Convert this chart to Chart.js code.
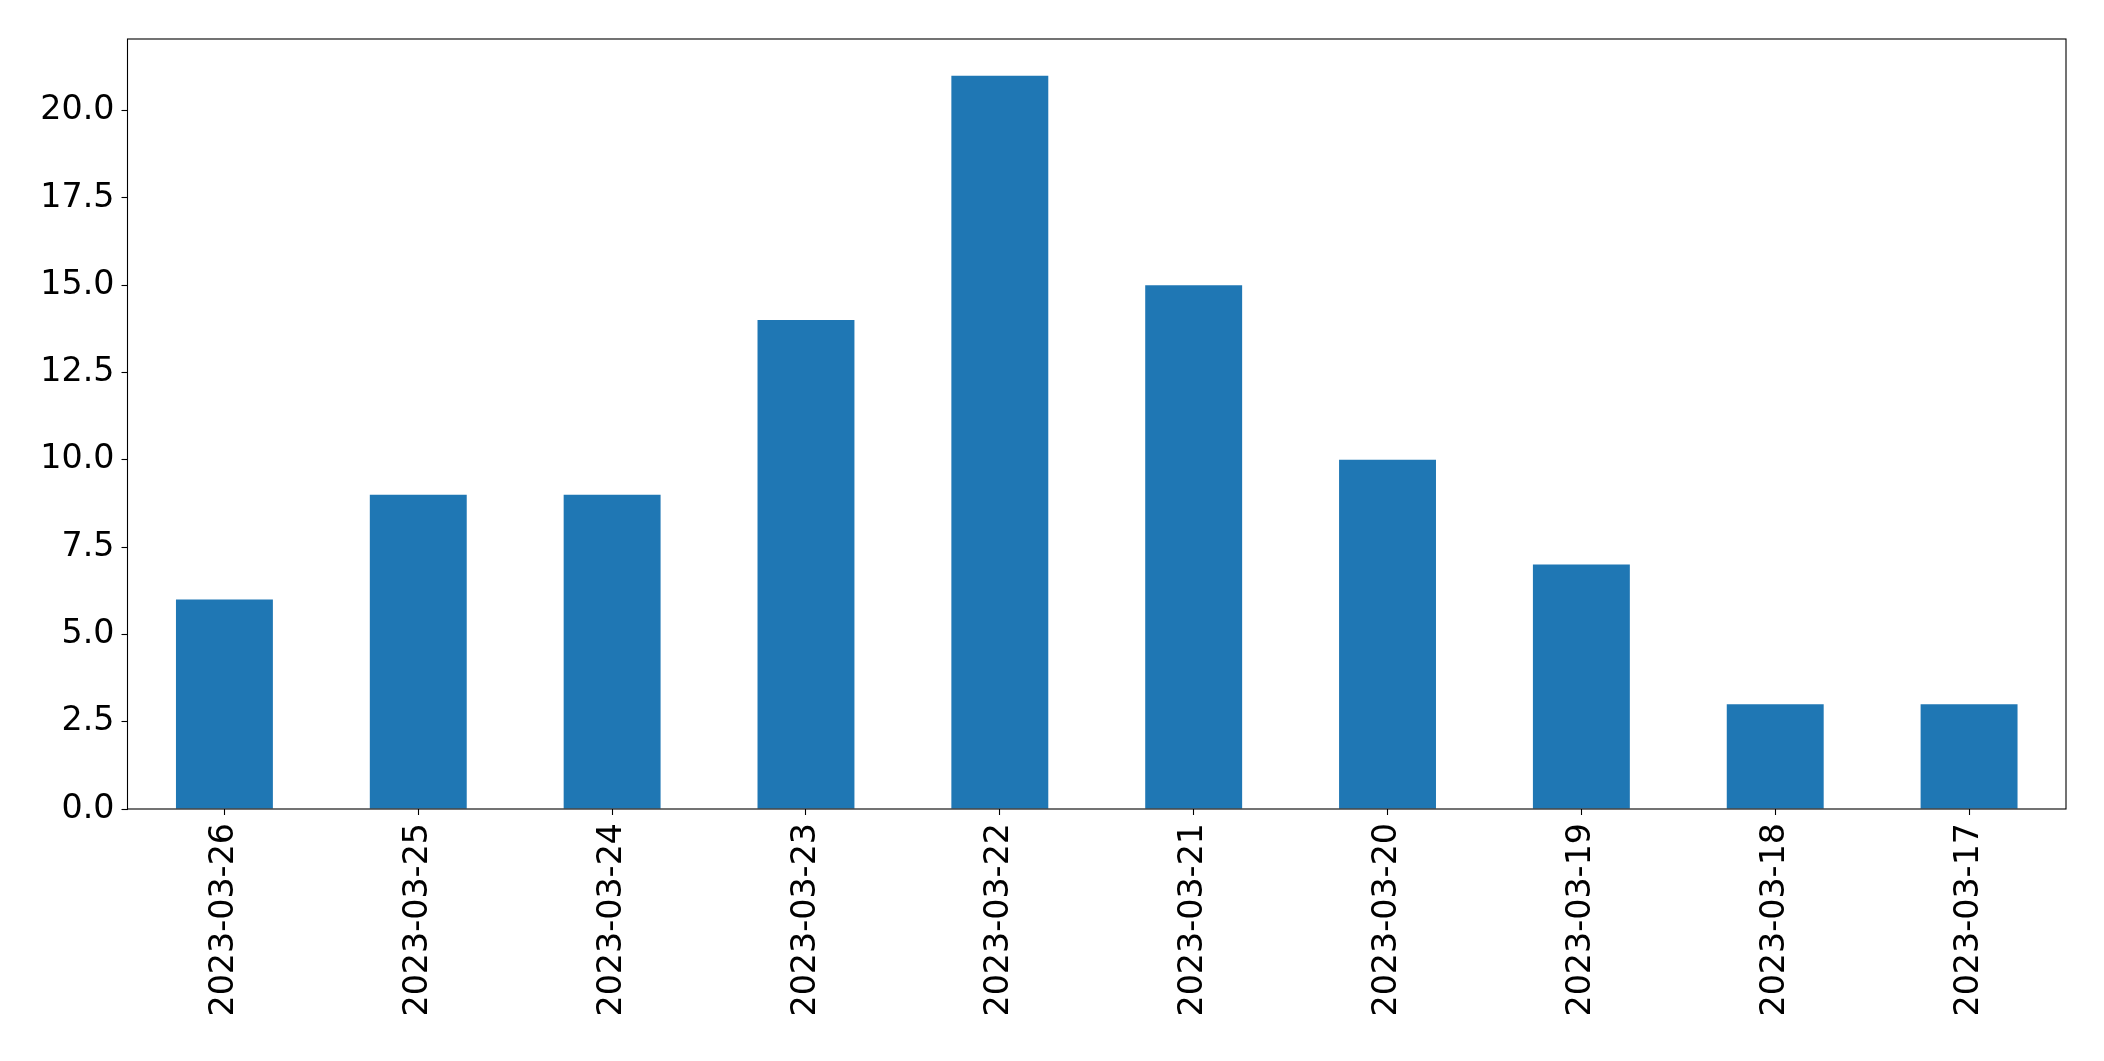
<!DOCTYPE html>
<html>
<head>
<meta charset="utf-8">
<script src="https://cdn.jsdelivr.net/npm/chart.js@4"></script>
<style>
html,body{margin:0;padding:0;background:#fff;}
#wrap{width:2104px;height:1061px;position:relative;}
</style>
</head>
<body>
<div id="wrap"><canvas id="c" width="2104" height="1061"></canvas></div>
<script>
const categories = ["2023-03-26","2023-03-25","2023-03-24","2023-03-23","2023-03-22","2023-03-21","2023-03-20","2023-03-19","2023-03-18","2023-03-17"];
const counts = [6, 9, 9, 14, 21, 15, 10, 7, 3, 3];
const yTicks = [0, 2.5, 5, 7.5, 10, 12.5, 15, 17.5, 20];

const frame = {
  id: 'frame',
  afterDraw(chart) {
    const a = chart.chartArea, ctx = chart.ctx;
    ctx.save();
    ctx.strokeStyle = '#000';
    ctx.lineWidth = 1.1;
    ctx.strokeRect(a.left, a.top, a.right - a.left, a.bottom - a.top);
    ctx.restore();
  }
};

new Chart(document.getElementById('c'), {
  type: 'bar',
  data: {
    labels: categories,
    datasets: [{ data: counts, backgroundColor: '#1f77b4', borderWidth: 0, categoryPercentage: 1, barPercentage: 0.5 }]
  },
  options: {
    responsive: false,
    animation: false,
    devicePixelRatio: 1,
    layout: { padding: { top: 39, right: 38, left: 0, bottom: 0 } },
    plugins: { legend: { display: false }, tooltip: { enabled: false } },
    scales: {
      x: {
        grid: { display: true, offset: false, drawOnChartArea: false, drawTicks: true, tickLength: 6, tickColor: '#000', tickWidth: 1.1 },
        border: { display: false },
        ticks: { color: '#000', font: { family: 'DejaVu Sans', size: 33.3 }, minRotation: 90, maxRotation: 90, padding: 8, autoSkip: false },
        afterFit(s) { s.height = 252; }
      },
      y: {
        min: 0, max: 22.05,
        afterBuildTicks(s) { s.ticks = yTicks.map(v => ({ value: v })); },
        grid: { display: true, drawOnChartArea: false, drawTicks: true, tickLength: 6, tickColor: '#000', tickWidth: 1.1 },
        border: { display: false },
        ticks: { color: '#000', font: { family: 'DejaVu Sans', size: 33.3 }, padding: 7, callback: v => Number(v).toFixed(1) },
        afterFit(s) { s.width = 127.5; }
      }
    }
  },
  plugins: [frame]
});
</script>
</body>
</html>
